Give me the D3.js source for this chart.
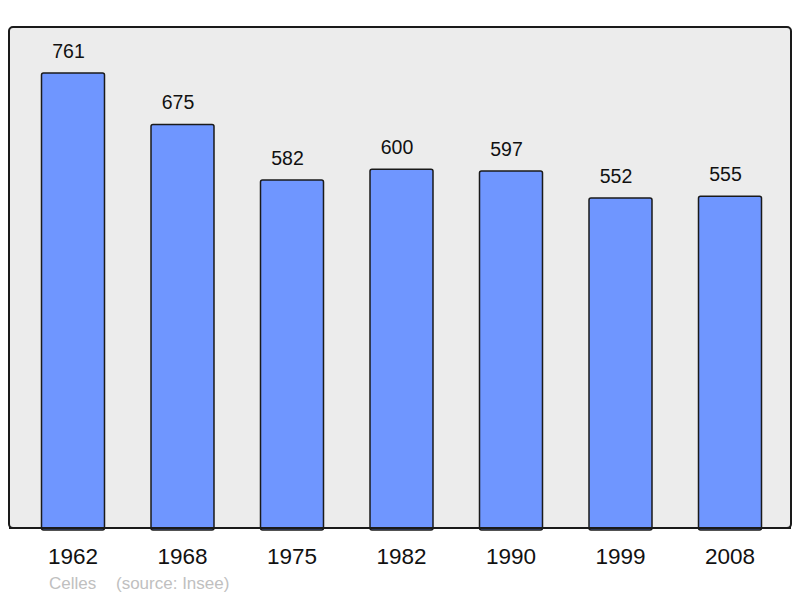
<!DOCTYPE html>
<html><head><meta charset="utf-8">
<script src="https://cdn.jsdelivr.net/npm/d3@7"></script>
<style>body{margin:0;background:#fff}svg{display:block}</style>
</head><body>
<script>
const years = ["1962","1968","1975","1982","1990","1999","2008"];
const population = [761,675,582,600,597,552,555];
const commune = "Celles";
const source = "(source: Insee)";

const W = 800, H = 598;
const svg = d3.select("body").append("svg").attr("width", W).attr("height", H);
const font = "'Liberation Sans', Arial, sans-serif";

svg.append("rect").attr("x",9).attr("y",27).attr("width",782).attr("height",501)
  .attr("rx",4).attr("fill","#ececec").attr("stroke","#1a1a1a").attr("stroke-width",2);

const x = d3.scaleBand().domain(years).range([41.5,761.5]).paddingInner(0.4247).paddingOuter(0);
const y = d3.scaleLinear().domain([0,761]).range([528,73]);

const g = svg.append("g");
g.selectAll("rect.bar").data(years).join("rect").attr("class","bar")
  .attr("x", d => x(d)).attr("width", x.bandwidth())
  .attr("y", (d,i) => y(population[i])).attr("height", (d,i) => y(0) - y(population[i]) + 2)
  .attr("rx",2).attr("fill","#6f96ff").attr("stroke","#1a1a1a").attr("stroke-width",1.5);

svg.append("line").attr("x1",9).attr("x2",791).attr("y1",528).attr("y2",528)
  .attr("stroke","#1a1a1a").attr("stroke-width",2);

g.selectAll("text.val").data(years).join("text").attr("class","val")
  .attr("x", d => x(d) + x.bandwidth()/2 - 4.5).attr("y", (d,i) => y(population[i]) - 15)
  .attr("text-anchor","middle").attr("font-family",font).attr("font-size",19.5).attr("fill","#111")
  .text((d,i) => population[i]);

const xAxis = d3.axisBottom(x).tickSize(0).tickPadding(0);
const ax = svg.append("g").attr("transform","translate(0,548)").call(xAxis);
ax.select(".domain").remove();
ax.selectAll("text").attr("font-family",font).attr("font-size",22.5).attr("fill","#111").attr("dy","0.71em");

svg.append("text").attr("x",49).attr("y",589).attr("font-family",font).attr("font-size",17)
  .attr("fill","#c0c0c0").text(commune);
svg.append("text").attr("x",116).attr("y",589).attr("font-family",font).attr("font-size",17)
  .attr("fill","#c0c0c0").text(source);
</script>
</body></html>
